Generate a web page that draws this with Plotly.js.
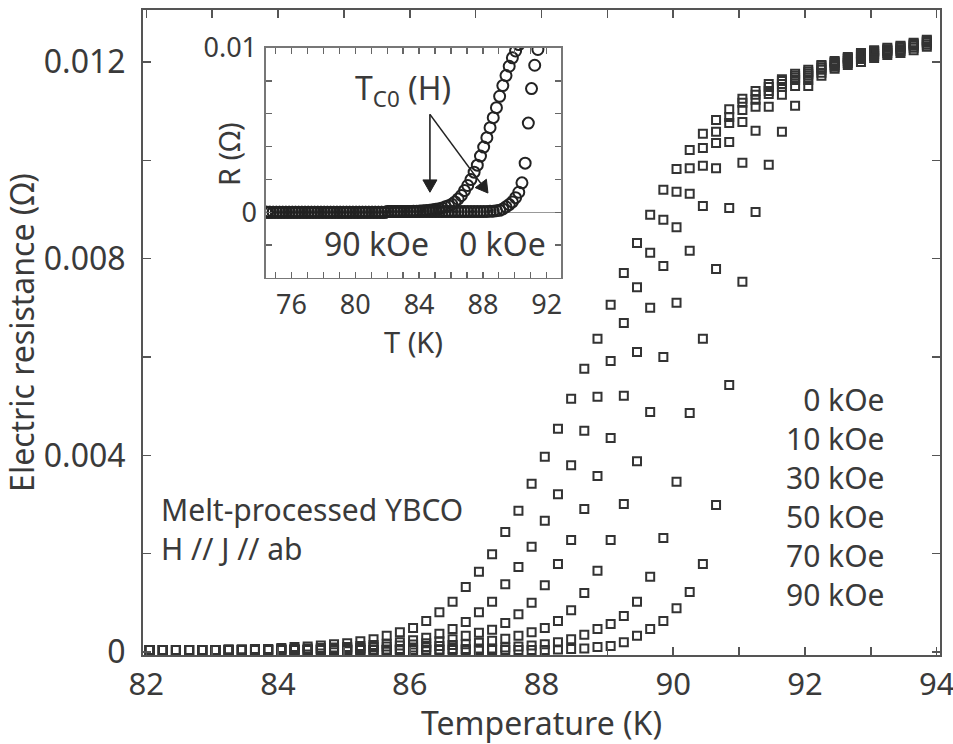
<!DOCTYPE html>
<html>
<head>
<meta charset="utf-8">
<script src="https://cdn.plot.ly/plotly-3.0.1.min.js"></script>
<style>html,body{margin:0;padding:0;background:#fff;}#chart{width:953px;height:744px;}</style>
</head>
<body>
<div id="chart"></div>
<script>
// Temperature grid (K) of the main panel
var temps = [82.05,82.25,82.45,82.65,82.85,83.05,83.25,83.45,83.65,83.85,
  84.05,84.25,84.45,84.65,84.85,85.05,85.25,85.45,85.65,85.85,
  86.05,86.25,86.45,86.65,86.85,87.05,87.25,87.45,87.65,87.85,
  88.05,88.25,88.45,88.65,88.85,89.05,89.25,89.45,89.65,89.85,
  90.05,90.25,90.45,90.65,90.85,91.05,91.25,91.45,91.65,91.85,
  92.05,92.25,92.45,92.65,92.85,93.05,93.25,93.45,93.65,93.85];

// Electric resistance (Ohm) for each field
var r90 = [0.00004,0.00004,0.00004,0.00004,0.00004,0.00004,0.00005,0.00005,0.00006,0.00006,
  0.00008,0.00010,0.00011,0.00013,0.00016,0.00018,0.00022,0.00026,0.00033,0.00040,
  0.00049,0.00063,0.00081,0.00102,0.00132,0.00163,0.00199,0.00244,0.00287,0.00342,
  0.00397,0.00454,0.00515,0.00576,0.00637,0.00706,0.00771,0.00832,0.00889,0.00940,
  0.00982,0.01021,0.01054,0.01082,0.01104,0.01125,0.01141,0.01155,0.01165,0.01176,
  0.01184,0.01194,0.01202,0.01210,0.01218,0.01224,0.01229,0.01233,0.01239,0.01245];
var r70 = [0.00004,0.00004,0.00004,0.00004,0.00004,0.00004,0.00005,0.00005,0.00005,0.00005,
  0.00006,0.00006,0.00007,0.00008,0.00009,0.00010,0.00012,0.00014,0.00017,0.00020,
  0.00024,0.00029,0.00037,0.00047,0.00061,0.00081,0.00102,0.00138,0.00173,0.00214,
  0.00267,0.00321,0.00380,0.00450,0.00519,0.00592,0.00669,0.00742,0.00812,0.00879,
  0.00936,0.00984,0.01025,0.01058,0.01088,0.01117,0.01133,0.01149,0.01161,0.01172,
  0.01180,0.01192,0.01200,0.01208,0.01216,0.01222,0.01226,0.01231,0.01237,0.01243];
var r50 = [0.00004,0.00004,0.00004,0.00004,0.00004,0.00004,0.00004,0.00004,0.00005,0.00005,
  0.00005,0.00005,0.00005,0.00006,0.00007,0.00007,0.00008,0.00010,0.00011,0.00013,
  0.00015,0.00018,0.00022,0.00026,0.00033,0.00039,0.00045,0.00059,0.00077,0.00100,
  0.00136,0.00179,0.00228,0.00291,0.00358,0.00435,0.00521,0.00610,0.00700,0.00785,
  0.00864,0.00932,0.00989,0.01035,0.01076,0.01102,0.01123,0.01141,0.01155,0.01168,
  0.01176,0.01188,0.01198,0.01206,0.01214,0.01220,0.01224,0.01229,0.01235,0.01241];
var r30 = [0.00004,0.00004,0.00004,0.00004,0.00004,0.00004,0.00004,0.00004,0.00004,0.00004,
  0.00004,0.00004,0.00004,0.00005,0.00005,0.00005,0.00005,0.00005,0.00005,0.00006,
  0.00009,0.00010,0.00012,0.00014,0.00016,0.00019,0.00023,0.00027,0.00033,0.00040,
  0.00049,0.00063,0.00085,0.00120,0.00165,0.00228,0.00301,0.00388,0.00488,0.00600,
  0.00710,0.00816,0.00907,0.00984,0.01037,0.01078,0.01109,0.01135,0.01149,0.01163,
  0.01172,0.01184,0.01194,0.01202,0.01210,0.01216,0.01222,0.01226,0.01233,0.01239];
var r10 = [0.00004,0.00004,0.00004,0.00004,0.00004,0.00004,0.00004,0.00004,0.00004,0.00004,
  0.00004,0.00004,0.00004,0.00004,0.00004,0.00004,0.00004,0.00004,0.00004,0.00004,
  0.00004,0.00005,0.00005,0.00006,0.00006,0.00007,0.00007,0.00009,0.00011,0.00013,
  0.00016,0.00020,0.00026,0.00035,0.00047,0.00057,0.00073,0.00102,0.00153,0.00232,
  0.00346,0.00486,0.00637,0.00779,0.00903,0.00995,0.01060,0.01109,0.01133,0.01151,
  0.01163,0.01178,0.01190,0.01198,0.01206,0.01212,0.01218,0.01222,0.01229,0.01235];
var r0 = [0.00004,0.00004,0.00004,0.00004,0.00004,0.00004,0.00004,0.00004,0.00004,0.00004,
  0.00004,0.00004,0.00004,0.00004,0.00004,0.00004,0.00004,0.00004,0.00004,0.00004,
  0.00004,0.00004,0.00004,0.00004,0.00004,0.00004,0.00004,0.00004,0.00004,0.00004,
  0.00004,0.00005,0.00006,0.00007,0.00010,0.00012,0.00020,0.00033,0.00047,0.00063,
  0.00089,0.00122,0.00179,0.00299,0.00543,0.00753,0.00895,0.00991,0.01058,0.01111,
  0.01151,0.01172,0.01186,0.01194,0.01200,0.01208,0.01214,0.01218,0.01224,0.01231];

// Inset: extra low-temperature points (superconducting state, R = 0)
var lowTemps = [74.45,74.65,74.85,75.05,75.25,75.45,75.65,75.85,76.05,76.25,
  76.45,76.65,76.85,77.05,77.25,77.45,77.65,77.85,78.05,78.25,
  78.45,78.65,78.85,79.05,79.25,79.45,79.65,79.85,80.05,80.25,
  80.45,80.65,80.85,81.05,81.25,81.45,81.65,81.85];
var lowR = [0,0,0,0,0,0,0,0,0,0, 0,0,0,0,0,0,0,0,0,0,
  0,0,0,0,0,0,0,0,0,0, 0,0,0,0,0,0,0,0];

var fieldLabels = ['0 kOe','10 kOe','30 kOe','50 kOe','70 kOe','90 kOe'];
var seriesR = [r0, r10, r30, r50, r70, r90];

var FONT = 'Noto Sans, DejaVu Sans, sans-serif';
var TXT = '#3a3a3a';
var AX = '#555';

var traces = [];
for (var i = 0; i < seriesR.length; i++) {
  traces.push({
    x: temps, y: seriesR[i], type: 'scatter', mode: 'markers', name: fieldLabels[i],
    xaxis: 'x', yaxis: 'y', showlegend: false,
    marker: {symbol: 'square-open', size: 8, color: '#333', line: {width: 2, color: '#333'}}
  });
}
var insetSets = [[r90, '90 kOe'], [r0, '0 kOe']];
insetSets.forEach(function (s) {
  traces.push({
    x: lowTemps.concat(temps), y: lowR.concat(s[0]), type: 'scatter', mode: 'markers',
    name: s[1] + ' (inset)', xaxis: 'x2', yaxis: 'y2', showlegend: false,
    marker: {symbol: 'circle-open', size: 11, color: '#222', line: {width: 2, color: '#222'}}
  });
});

var annotations = [];
// field list (one right-aligned block)
annotations.push({xref: 'paper', yref: 'paper', x: 0.933, y: 0.2442, xanchor: 'right', yanchor: 'middle', align: 'right',
  text: fieldLabels.join('<br>'), showarrow: false, font: {family: FONT, size: 30, color: TXT}});
annotations.push({xref: 'paper', yref: 'paper', x: 0.020, y: 0.1953, xanchor: 'left', yanchor: 'middle', align: 'left',
  text: 'Melt-processed YBCO<br>H // J // ab', showarrow: false, font: {family: FONT, size: 30, color: TXT}});
// inset texts
annotations.push({xref: 'x2', yref: 'y2', x: 81.36, y: -0.00187, xanchor: 'center', yanchor: 'middle',
  text: '90 kOe', showarrow: false, font: {family: FONT, size: 32, color: TXT}});
annotations.push({xref: 'x2', yref: 'y2', x: 89.26, y: -0.00187, xanchor: 'center', yanchor: 'middle',
  text: '0 kOe', showarrow: false, font: {family: FONT, size: 32, color: TXT}});
annotations.push({xref: 'x2', yref: 'y2', x: 82.99, y: 0.00744, xanchor: 'center', yanchor: 'middle',
  text: 'T<sub>C0</sub> (H)', showarrow: false, font: {family: FONT, size: 32, color: TXT}});
// inset y title (sits over the tick-label column, as in the original)
annotations.push({xref: 'paper', yref: 'paper', x: 0.1066, y: 0.7767, xanchor: 'center', yanchor: 'middle',
  text: 'R (Ω)', textangle: -90, showarrow: false, font: {family: FONT, size: 29, color: TXT}});

// arrows pointing to Tc0(H) in the inset
var shapes = [
  {type: 'line', xref: 'x2', yref: 'y2', x0: 84.68, y0: 0.00596, x1: 84.68, y1: 0.00197, line: {color: '#222', width: 1.6}},
  {type: 'path', xref: 'x2', yref: 'y2', path: 'M84.24,0.00197 L85.12,0.00197 L84.68,0.00122 Z', fillcolor: '#222', line: {color: '#222', width: 1}},
  {type: 'line', xref: 'x2', yref: 'y2', x0: 84.68, y0: 0.00596, x1: 87.87, y1: 0.00176, line: {color: '#222', width: 1.6}},
  {type: 'path', xref: 'x2', yref: 'y2', path: 'M87.52,0.00150 L88.22,0.00201 L88.32,0.00117 Z', fillcolor: '#222', line: {color: '#222', width: 1}}
];

var layout = {
  width: 953, height: 744,
  margin: {l: 143, r: 13, t: 10, b: 89},
  paper_bgcolor: '#fff', plot_bgcolor: '#fff',
  font: {family: FONT, color: TXT},
  showlegend: false,
  xaxis: {
    domain: [0, 1], anchor: 'y', range: [81.95, 94.05], tick0: 82, dtick: 2,
    ticks: 'inside', ticklen: 8, tickwidth: 1.5, tickcolor: AX,
    minor: {dtick: 1, ticks: 'inside', ticklen: 8, tickwidth: 1.5, tickcolor: AX},
    showline: true, linewidth: 2, linecolor: AX, mirror: 'ticks',
    showgrid: false, zeroline: false, ticklabeloverflow: 'allow',
    tickfont: {family: FONT, size: 31, color: TXT}, ticklabelstandoff: 1,
    title: {text: 'Temperature (K)', font: {family: FONT, size: 32, color: TXT}, standoff: 2}
  },
  yaxis: {
    domain: [0, 1], anchor: 'x', range: [-0.000061, 0.013056], tick0: 0, dtick: 0.004,
    ticks: 'inside', ticklen: 8, tickwidth: 1.5, tickcolor: AX,
    minor: {dtick: 0.002, ticks: 'inside', ticklen: 8, tickwidth: 1.5, tickcolor: AX},
    showline: true, linewidth: 2, linecolor: AX, mirror: 'ticks',
    showgrid: false, zeroline: false,
    tickfont: {family: FONT, size: 32, color: TXT}, ticklabelstandoff: 9,
    title: {text: 'Electric resistance (Ω)', font: {family: FONT, size: 32, color: TXT}, standoff: 2}
  },
  xaxis2: {
    domain: [0.1543, 0.5245], anchor: 'y2', range: [74.4, 92.9], tick0: 76, dtick: 4,
    ticks: 'inside', ticklen: 6, tickwidth: 1.3, tickcolor: '#666',
    minor: {dtick: 1, ticks: 'inside', ticklen: 6, tickwidth: 1.3, tickcolor: '#666'},
    showline: true, linewidth: 1.5, linecolor: '#777', mirror: 'ticks',
    showgrid: false, zeroline: false,
    tickfont: {family: FONT, size: 27, color: TXT}, ticklabelstandoff: 2,
    title: {text: 'T (K)', font: {family: FONT, size: 29, color: TXT}, standoff: 2}
  },
  yaxis2: {
    domain: [0.5845, 0.9411], anchor: 'x2', range: [-0.004, 0.01], tick0: 0, dtick: 0.01,
    ticks: 'inside', ticklen: 6, tickwidth: 1.3, tickcolor: '#666',
    minor: {dtick: 0.002, ticks: 'inside', ticklen: 6, tickwidth: 1.3, tickcolor: '#666'},
    showline: true, linewidth: 1.5, linecolor: '#777', mirror: 'ticks',
    showgrid: false, zeroline: true, zerolinecolor: '#999', zerolinewidth: 1.5,
    tickfont: {family: FONT, size: 27, color: TXT}, ticklabelstandoff: 2
  },
  shapes: shapes,
  annotations: annotations
};

Plotly.newPlot('chart', traces, layout, {staticPlot: true, displayModeBar: false});
</script>
</body>
</html>
